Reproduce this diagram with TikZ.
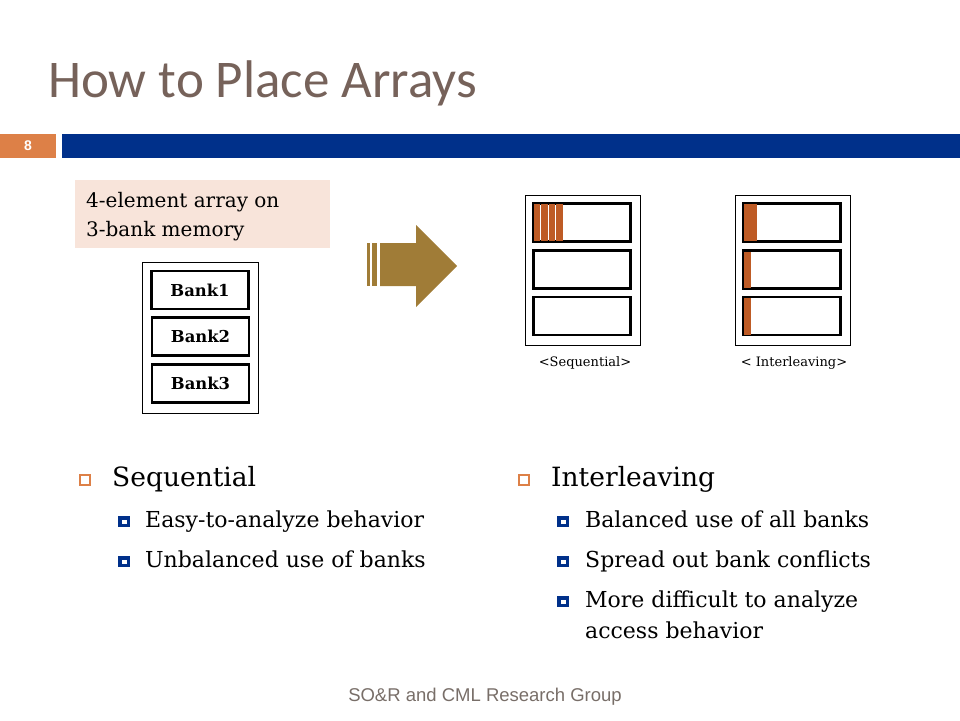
\documentclass[tikz,border=0pt]{standalone}
\usepackage{fontspec}
\setmainfont{DejaVu Serif}
\newfontfamily\titlefont{Carlito}
\newfontfamily\footfont{Liberation Sans}
\usetikzlibrary{positioning}

\definecolor{titlebrown}{HTML}{76625A}
\definecolor{numorange}{HTML}{DD8047}
\definecolor{barblue}{HTML}{00308A}
\definecolor{peach}{HTML}{F8E4DA}
\definecolor{elemorange}{HTML}{BE5B25}
\definecolor{arrowgold}{HTML}{A07C37}
\definecolor{footgrey}{HTML}{786E68}

\tikzset{
  bank/.style={draw, line width=2.6pt, minimum width=97pt, minimum height=38pt, inner sep=0pt},
  lvlone/.style={anchor=base west, inner sep=0pt, font=\fontsize{26.5}{30}\selectfont},
  lvltwo/.style={anchor=base west, inner sep=0pt, font=\fontsize{22}{26}\selectfont},
}

\begin{document}
\begin{tikzpicture}[x=1pt,y=-1pt]

\useasboundingbox (0,0) rectangle (960,720);

% titolo
\node[anchor=base west, inner sep=0pt, text=titlebrown, font=\titlefont\fontsize{53}{62}\selectfont] (title) at (48,97) {How to Place Arrays};

% barra
\fill[numorange] (0,134) rectangle (56,158);
\node[text=white, font=\footfont\bfseries\fontsize{14}{16}\selectfont] (num) at (28,146) {8};
\fill[barblue] (62,134) rectangle (960,158);

% nota
\fill[peach] (75,180) rectangle (330,248);
\node[anchor=base west, inner sep=0pt, font=\fontsize{20}{24}\selectfont] (notea) at (86,207) {4-element array on};
\node[anchor=base west, inner sep=0pt, font=\fontsize{20}{24}\selectfont] (noteb) at (86,236) {3-bank memory};

% memoria a 3 banchi
\draw (142,262) rectangle (258,413);
\node[bank, font=\bfseries\fontsize{16.4}{19}\selectfont] (b1) at (200,290) {Bank1};
\node[bank, font=\bfseries\fontsize{16.4}{19}\selectfont] (b2) at (200.5,336.5) {Bank2};
\node[bank, font=\bfseries\fontsize{16.4}{19}\selectfont] (b3) at (200.5,383.5) {Bank3};

% freccia
\fill[arrowgold] (367,243) rectangle (369.5,286);
\fill[arrowgold] (372,243) rectangle (376.5,286);
\fill[arrowgold] (380,243) -- (416,243) -- (416,225) -- (457,266) -- (416,307) -- (416,286) -- (380,286) -- cycle;

% sequenziale
\draw (525,195) rectangle (640,345);
\node[bank] (s1) at (582,222.5) {};
\node[bank] (s2) at (582,269.5) {};
\node[bank] (s3) at (582,316) {};
\foreach \i in {0,...,3}
  \fill[elemorange] (533.5+7.6*\i,204) rectangle +(6.4,37);
\node[anchor=base, inner sep=0pt, font=\fontsize{13}{15}\selectfont] (seqlab) at (585,366) {<Sequential>};

% interleaving
\draw (735,195) rectangle (850,345);
\node[bank] (i1) at (792,222.5) {};
\node[bank] (i2) at (792,269.5) {};
\node[bank] (i3) at (792,316) {};
\fill[elemorange] (743.5,204) rectangle (750.5,241);
\fill[elemorange] (750.5,204) rectangle (757,241);
\fill[elemorange] (743.5,251.5) rectangle (750.5,287.5);
\fill[elemorange] (743.5,298) rectangle (750.5,334.5);
\node[anchor=base, inner sep=0pt, font=\fontsize{13}{15}\selectfont] (intlab) at (794,366) {< Interleaving>};

% punti elenco
\foreach \x/\y in {80/475, 519/475}
  \draw[numorange, line width=1.2pt] (\x,\y) rectangle +(10,10);
\foreach \x/\y in {118/516, 118/556, 557/516, 557/556, 557/596} {
  \fill[barblue] (\x,\y) rectangle +(12,11);
  \fill[white] (\x+3.5,\y+3.5) rectangle +(5,4);
}

% testo sinistra
\node[lvlone] (seq) at (112,486) {Sequential};
\node[lvltwo] (seqa) at (145,527) {Easy-to-analyze behavior};
\node[lvltwo] (seqb) at (145,567) {Unbalanced use of banks};

% testo destra
\node[lvlone] (int) at (551,486) {Interleaving};
\node[lvltwo] (inta) at (585,527) {Balanced use of all banks};
\node[lvltwo] (intb) at (585,567) {Spread out bank conflicts};
\node[lvltwo] (intc) at (585,607) {More difficult to analyze};
\node[lvltwo] (intd) at (585,638) {access behavior};

% piede
\node[anchor=base, inner sep=0pt, text=footgrey, font=\footfont\fontsize{18.5}{21}\selectfont] (foot) at (485,701) {SO\&R and CML Research Group};

\end{tikzpicture}
\end{document}
